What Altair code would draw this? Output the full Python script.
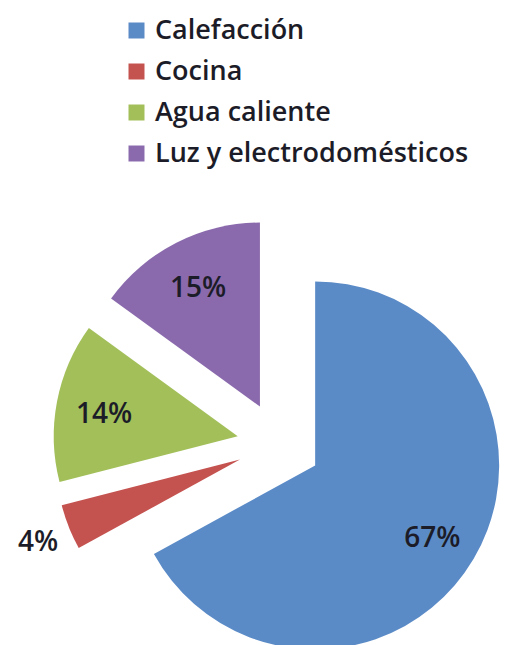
import altair as alt
import pandas as pd

categories = ["Calefacción", "Cocina", "Agua caliente", "Luz y electrodomésticos"]
values = [67, 4, 14, 15]
colors = ["#5B8BC7", "#C4524F", "#A2BF5A", "#8A6AAD"]

# layout parameters
CX, CY, R, EXPLODE = 279, 444, 184, 42
FONT = "Open Sans"

df = pd.DataFrame({"category": categories, "value": values, "order": list(range(len(values)))})

base = (
    alt.Chart(df)
    .transform_window(cum="sum(value)", sort=[alt.SortField("order")], frame=[None, 0])
    .transform_joinaggregate(total="sum(value)")
    .transform_calculate(
        a0="2*PI*(datum.cum-datum.value)/datum.total",
        a1="2*PI*datum.cum/datum.total",
    )
    .transform_calculate(mid="(datum.a0+datum.a1)/2")
    .transform_calculate(
        cx=f"{CX}+{EXPLODE}*sin(datum.mid)",
        cy=f"{CY}-{EXPLODE}*cos(datum.mid)",
        lr=f"datum.value/datum.total < 0.05 ? {R*1.18} : {R*0.74}",
        label="format(datum.value/datum.total, '.0%')",
    )
    .transform_calculate(
        lx="datum.cx+datum.lr*sin(datum.mid)",
        ly="datum.cy-datum.lr*cos(datum.mid)",
    )
)

arcs = base.mark_arc(outerRadius=R).encode(
    x=alt.X("cx:Q", scale=None),
    y=alt.Y("cy:Q", scale=None),
    theta=alt.Theta("a0:Q", scale=None),
    theta2="a1:Q",
    color=alt.Color(
        "category:N",
        scale=alt.Scale(domain=categories, range=colors),
        sort=categories,
        legend=alt.Legend(
            title=None,
            orient="none",
            legendX=123,
            legendY=17,
            symbolType="square",
            symbolSize=256,
            symbolStrokeWidth=0,
            labelFont=FONT,
            labelFontSize=27,
            labelFontWeight=600,
            labelColor="#1c1c28",
            labelOffset=5,
            rowPadding=13,
            padding=0,
            labelLimit=400,
        ),
    ),
)

labels = base.mark_text(font=FONT, fontSize=28, fontWeight=600, color="#1c1c28", dy=4).encode(
    x=alt.X("lx:Q", scale=None),
    y=alt.Y("ly:Q", scale=None),
    text="label:N",
)

chart = (
    alt.layer(arcs, labels)
    .properties(width=505, height=645, autosize="none", padding=0)
    .configure_view(stroke=None)
)

chart.save("out.html", embed_options={"renderer": "svg", "actions": False})
